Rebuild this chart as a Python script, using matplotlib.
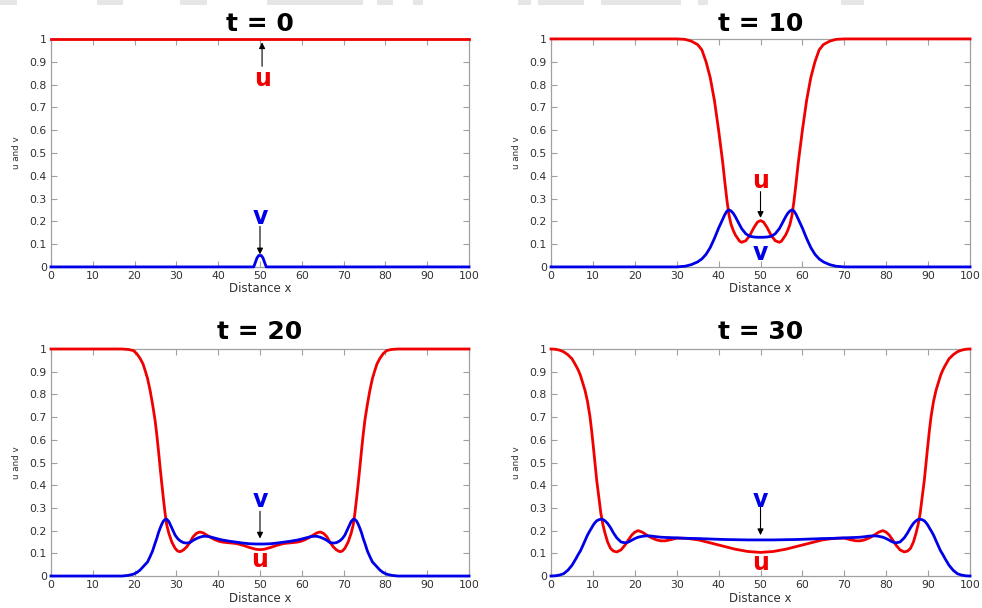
import matplotlib
matplotlib.use("Agg")
import matplotlib.pyplot as plt
from matplotlib.patches import Rectangle

# ---- data (u = red, v = blue) ----
x_t0 = [0, 48.5, 49.3, 49.7, 50.3, 50.7, 51.5, 100]
u_t0 = [1, 1, 1, 1, 1, 1, 1, 1]
v_t0 = [0, 0, 0.04, 0.05, 0.05, 0.04, 0, 0]

x_t10 = [0, 30, 32, 33.5, 35, 36, 37, 38, 39, 40, 40.5, 41, 41.5, 42, 42.5, 43, 43.5, 44, 45, 45.5,
         46.5, 47.5, 48.5, 49.3, 50,
         50.7, 51.5, 52.5, 53.5, 54.5, 55, 56, 56.5, 57, 57.5, 58, 58.5, 59, 59.5, 60, 61, 62, 63,
         64, 65, 66.5, 68, 70, 100]
u_t10 = [1, 1, 0.998, 0.99, 0.975, 0.952, 0.9, 0.83, 0.73, 0.6, 0.528, 0.455, 0.37, 0.29, 0.225,
         0.185, 0.16, 0.14, 0.113, 0.108, 0.115, 0.14, 0.175, 0.197, 0.203,
         0.197, 0.175, 0.14, 0.115, 0.108, 0.113, 0.14, 0.16, 0.185, 0.225, 0.29, 0.37, 0.455,
         0.528, 0.6, 0.73, 0.83, 0.9, 0.952, 0.975, 0.99, 0.998, 1, 1]
v_t10 = [0, 0, 0.003, 0.01, 0.022, 0.035, 0.055, 0.085, 0.125, 0.17, 0.19, 0.21, 0.23, 0.245,
         0.25, 0.245, 0.235, 0.22, 0.185, 0.168, 0.145, 0.134, 0.131, 0.13, 0.13,
         0.13, 0.131, 0.134, 0.145, 0.168, 0.185, 0.22, 0.235, 0.245, 0.25, 0.245, 0.23, 0.21,
         0.19, 0.17, 0.125, 0.085, 0.055, 0.035, 0.022, 0.01, 0.003, 0, 0]

x_t20 = [0, 17, 18.5, 19.7, 20.5, 21.3, 22, 22.5, 23.1, 23.7, 24.3, 24.9, 25.3, 25.7, 26.1, 26.5,
         26.9, 27.3, 27.7, 28.2, 28.9, 29.7, 30.3, 30.9, 31.7, 32.5, 33.3, 34, 34.8, 35.6, 36.4,
         37.2, 38.2, 39.2, 40.2, 41.2, 42.8, 44.4, 46, 47.6, 49, 50,
         51, 52.4, 54, 55.6, 57.2, 58.8, 59.8, 60.8, 61.8, 62.8, 63.6, 64.4, 65.2, 66, 66.7, 67.5,
         68.3, 69.1, 69.7, 70.3, 71.1, 71.8, 72.3, 72.7, 73.1, 73.5, 73.9, 74.3, 74.7, 75.1, 75.7,
         76.3, 76.9, 77.5, 78, 78.7, 79.5, 80.3, 81.5, 83, 100]
u_t20 = [1, 1, 0.998, 0.993, 0.98, 0.959, 0.935, 0.907, 0.87, 0.819, 0.757, 0.687, 0.625, 0.555,
         0.48, 0.408, 0.34, 0.276, 0.225, 0.188, 0.15, 0.122, 0.11, 0.107, 0.115, 0.129, 0.15,
         0.173, 0.188, 0.194, 0.19, 0.181, 0.17, 0.16, 0.153, 0.149, 0.146, 0.143, 0.135, 0.125,
         0.118, 0.116,
         0.118, 0.125, 0.135, 0.143, 0.146, 0.149, 0.153, 0.16, 0.17, 0.181, 0.19, 0.194, 0.188,
         0.173, 0.15, 0.129, 0.115, 0.107, 0.11, 0.122, 0.15, 0.188, 0.225, 0.276, 0.34, 0.408,
         0.48, 0.555, 0.625, 0.687, 0.757, 0.819, 0.87, 0.907, 0.935, 0.959, 0.98, 0.993, 0.998,
         1, 1]
v_t20 = [0, 0, 0.003, 0.008, 0.015, 0.026, 0.04, 0.05, 0.062, 0.085, 0.11, 0.144, 0.165, 0.19,
         0.21, 0.228, 0.242, 0.249, 0.25, 0.24, 0.212, 0.18, 0.165, 0.155, 0.147, 0.145, 0.148,
         0.157, 0.165, 0.171, 0.175, 0.175, 0.172, 0.167, 0.162, 0.158, 0.153, 0.149, 0.145,
         0.142, 0.141, 0.141,
         0.141, 0.142, 0.145, 0.149, 0.153, 0.158, 0.162, 0.167, 0.172, 0.175, 0.175, 0.171,
         0.165, 0.157, 0.148, 0.145, 0.147, 0.155, 0.165, 0.18, 0.212, 0.24, 0.25, 0.249, 0.242,
         0.228, 0.21, 0.19, 0.165, 0.144, 0.11, 0.085, 0.062, 0.05, 0.04, 0.026, 0.015, 0.008,
         0.003, 0, 0]

x_t30 = [0, 1, 2, 3, 4, 5, 6, 6.5, 7, 7.5, 8.1, 8.7, 9.3, 9.7, 10.1, 10.5, 10.9, 11.4, 11.9, 12.4,
         12.9, 13.5, 14.2, 14.9, 15.7, 16.7, 17.7, 18.5, 19.3, 20, 20.8, 21.8, 22.8, 24, 25.2,
         26.2, 27.2, 28.6, 30, 32.4, 35.2, 38, 41, 44, 47, 50,
         53, 56, 59, 62, 64.8, 67.6, 70, 71.4, 72.8, 73.8, 74.8, 76, 77.2, 78.2, 79.2, 80, 80.7,
         81.5, 82.3, 83.3, 84.3, 85.1, 85.8, 86.5, 87.1, 87.6, 88.1, 88.6, 89.1, 89.5, 89.9, 90.3,
         90.7, 91.3, 91.9, 92.5, 93, 93.5, 94, 95, 96, 97, 98, 99, 100]
u_t30 = [1.0, 0.999, 0.995, 0.988, 0.975, 0.957, 0.925, 0.907, 0.885, 0.855, 0.819, 0.77, 0.702,
         0.64, 0.57, 0.497, 0.423, 0.35, 0.276, 0.225, 0.188, 0.15, 0.122, 0.11, 0.106, 0.115,
         0.137, 0.16, 0.181, 0.193, 0.2, 0.193, 0.181, 0.168, 0.159, 0.155, 0.155, 0.16, 0.167,
         0.166, 0.159, 0.146, 0.132, 0.118, 0.108, 0.104,
         0.108, 0.118, 0.132, 0.146, 0.159, 0.166, 0.167, 0.16, 0.155, 0.155, 0.159, 0.168,
         0.181, 0.193, 0.2, 0.193, 0.181, 0.16, 0.137, 0.115, 0.106, 0.11, 0.122, 0.15, 0.188,
         0.225, 0.276, 0.35, 0.423, 0.497, 0.57, 0.64, 0.702, 0.77, 0.819, 0.855, 0.885, 0.907,
         0.925, 0.957, 0.975, 0.988, 0.995, 0.999, 1.0]
v_t30 = [0, 0.001, 0.004, 0.01, 0.025, 0.047, 0.078, 0.095, 0.11, 0.13, 0.155, 0.18, 0.2, 0.212,
         0.225, 0.235, 0.243, 0.248, 0.25, 0.249, 0.243, 0.232, 0.213, 0.19, 0.168, 0.15, 0.146,
         0.15, 0.158, 0.165, 0.171, 0.175, 0.177, 0.176, 0.173, 0.171, 0.17, 0.169, 0.168, 0.166,
         0.165, 0.163, 0.161, 0.16, 0.159, 0.159,
         0.159, 0.16, 0.161, 0.163, 0.165, 0.166, 0.168, 0.169, 0.17, 0.171, 0.173, 0.176, 0.177,
         0.175, 0.171, 0.165, 0.158, 0.15, 0.146, 0.15, 0.168, 0.19, 0.213, 0.232, 0.243, 0.249,
         0.25, 0.248, 0.243, 0.235, 0.225, 0.212, 0.2, 0.18, 0.155, 0.13, 0.11, 0.095, 0.078,
         0.047, 0.025, 0.01, 0.004, 0.001, 0]

titles = ["t = 0", "t = 10", "t = 20", "t = 30"]

# label text (text, colour, x, y) and arrows (x, tail y, head y) per panel
labels = [
    [("u", "red", 50.5, 0.825), ("v", "blue", 50, 0.22)],
    [("u", "red", 50, 0.375), ("v", "blue", 50, 0.063)],
    [("v", "blue", 50, 0.335), ("u", "red", 50, 0.07)],
    [("v", "blue", 50, 0.335), ("u", "red", 50, 0.056)],
]
arrows = [
    [(50.5, 0.88, 0.985), (50, 0.178, 0.055)],
    [(50, 0.33, 0.215)],
    [(50, 0.285, 0.165)],
    [(50, 0.303, 0.18)],
]

panels = [(x_t0, u_t0, v_t0), (x_t10, u_t10, v_t10),
          (x_t20, u_t20, v_t20), (x_t30, u_t30, v_t30)]

RED = "#f00000"
BLUE = "#0000e8"
GRAY = "#a0a0a0"
TXT = "#303030"

fig = plt.figure(figsize=(9.82, 6.08), dpi=100)

# axes rectangles [left, bottom, width, height] in figure fraction
rects = [
    [0.0519, 0.561, 0.4257, 0.375],
    [0.5611, 0.561, 0.4267, 0.375],
    [0.0519, 0.0526, 0.4257, 0.3734],
    [0.5611, 0.0526, 0.4267, 0.3734],
]

for i, (x, u, v) in enumerate(panels):
    ax = fig.add_axes(rects[i])
    ax.plot(x, u, color=RED, lw=2.0, zorder=3, clip_on=False)
    ax.plot(x, v, color=BLUE, lw=2.0, zorder=4, clip_on=False)
    ax.set_xlim(0, 100)
    ax.set_ylim(0, 1)

    ax.set_xticks(range(0, 101, 10))
    ax.set_xticklabels([str(t) for t in range(0, 101, 10)])
    yt = [k / 10 for k in range(11)]
    ax.set_yticks(yt)
    ax.set_yticklabels(["0"] + ["0.%d" % k for k in range(1, 10)] + ["1"])
    ax.tick_params(direction="in", length=4, width=0.8, color=GRAY,
                   top=True, right=True, labelsize=7.8, labelcolor=TXT, pad=3)
    for s in ax.spines.values():
        s.set_color(GRAY)
        s.set_linewidth(0.9)

    ax.set_xlabel("Distance x", fontsize=8.5, color=TXT, labelpad=1)
    ax.set_ylabel("u and v", fontsize=6.3, color=TXT, labelpad=6)
    pad = 6 if i < 2 else 7.5
    ax.set_title(titles[i], fontsize=18, fontweight="bold", pad=pad)

    for txt, col, tx, ty in labels[i]:
        ax.text(tx, ty, txt, color=RED if col == "red" else BLUE, fontsize=17,
                fontweight="bold", ha="center", va="center", zorder=5)
    for ax_x, y0, y1 in arrows[i]:
        ax.annotate("", xy=(ax_x, y1), xytext=(ax_x, y0),
                    arrowprops=dict(arrowstyle="-|>", color="k", lw=0.8,
                                    mutation_scale=9, shrinkA=0, shrinkB=0),
                    zorder=5)

# faint cropped remnants along the very top edge of the reference image
for x0, x1 in [(0, 17), (97, 123), (180, 207), (267, 363), (377, 393), (413, 423),
               (518, 531), (538, 584), (601, 681), (698, 708), (841, 864)]:
    fig.patches.append(Rectangle((x0 / 982, 1 - 5 / 608), (x1 - x0) / 982, 5 / 608,
                                 transform=fig.transFigure, color="#e6e6e6", lw=0))

fig.savefig("out.png", dpi=100)
